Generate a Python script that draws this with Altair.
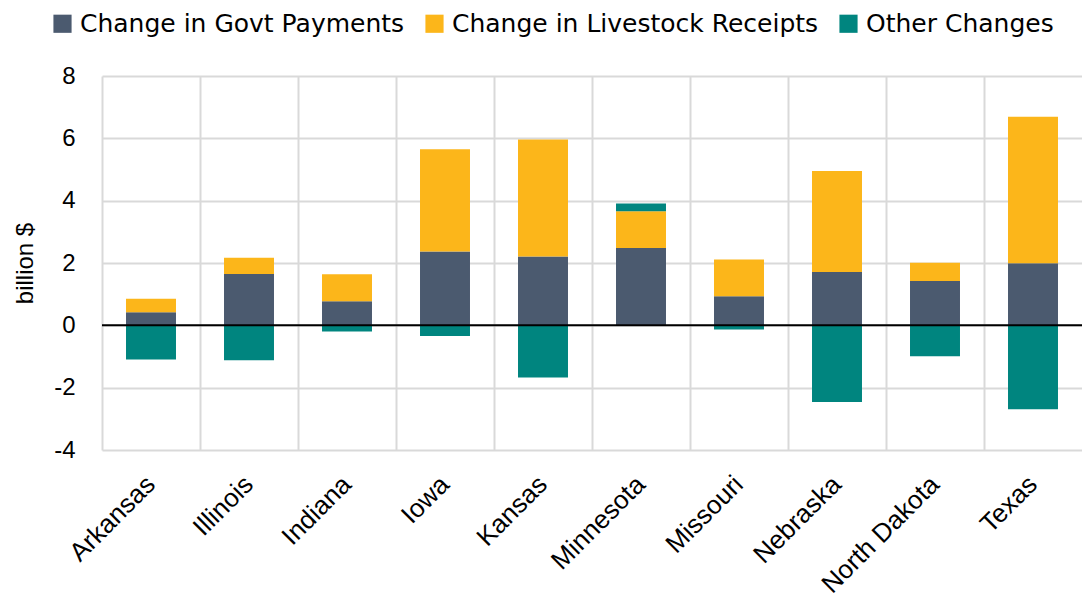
import altair as alt
import pandas as pd

states = ["Arkansas", "Illinois", "Indiana", "Iowa", "Kansas", "Minnesota",
          "Missouri", "Nebraska", "North Dakota", "Texas"]
govt = [0.42, 1.65, 0.77, 2.37, 2.21, 2.48, 0.93, 1.71, 1.42, 1.99]
livestock = [0.43, 0.52, 0.87, 3.28, 3.75, 1.18, 1.18, 3.24, 0.59, 4.70]
other = [-1.10, -1.12, -0.20, -0.34, -1.67, 0.25, -0.13, -2.46, -0.99, -2.69]

series = ["Change in Govt Payments", "Change in Livestock Receipts", "Other Changes"]
colors = ["#4B5A6F", "#FCB61A", "#00857F"]

rows = []
for i, s in enumerate(states):
    for k, (name, vals) in enumerate(zip(series, [govt, livestock, other])):
        rows.append({"state": s, "series": name, "value": vals[i], "order": k})
df = pd.DataFrame(rows)

FONT = "Liberation Sans"

bars = alt.Chart(df).mark_bar(width={"band": 0.51}).encode(
    x=alt.X("state:N", sort=states, title=None,
            scale=alt.Scale(paddingInner=0, paddingOuter=0),
            axis=alt.Axis(labelAngle=-45, labelAlign="right", labelBaseline="middle",
                          labelFontSize=26, labelFont=FONT, labelColor="#000000",
                          labelPadding=30, ticks=False, domain=False,
                          grid=True, bandPosition=0, gridColor="#D9D9D9", gridWidth=2)),
    y=alt.Y("value:Q", title="billion $", stack="zero",
            scale=alt.Scale(domain=[-4, 8], nice=False),
            axis=alt.Axis(values=[-4, -2, 0, 2, 4, 6, 8], labelExpr="datum.value + ''",
                          labelFontSize=24, labelFont=FONT,
                          labelColor="#000000", labelPadding=27, ticks=False, domain=False,
                          gridColor="#D9D9D9", gridWidth=2,
                          titleFontSize=24, titleFont=FONT, titleFontWeight="normal",
                          titleColor="#000000", titlePadding=16)),
    color=alt.Color("series:N", sort=series,
                    scale=alt.Scale(domain=series, range=colors),
                    legend=alt.Legend(title=None, orient="none", direction="horizontal",
                                      legendX=-52, legendY=-65,
                                      symbolType="square", symbolSize=330,
                                      symbolStrokeWidth=0, labelFontSize=25,
                                      labelFont="DejaVu Sans", labelColor="#000000",
                                      labelLimit=0, columnPadding=17, labelOffset=5,
                                      symbolOffset=0)),
    order=alt.Order("order:Q"),
)

zero = alt.Chart(pd.DataFrame({"y": [0]})).mark_rule(color="#000000", strokeWidth=2).encode(
    y="y:Q"
)

chart = alt.layer(bars, zero).properties(
    width=980, height=374,
    padding={"left": 94, "top": 68, "right": 0, "bottom": 151},
    autosize=alt.AutoSizeParams(type="none"),
).configure_view(stroke=None)

chart.save("out.html", embed_options={"renderer": "svg", "actions": False})
